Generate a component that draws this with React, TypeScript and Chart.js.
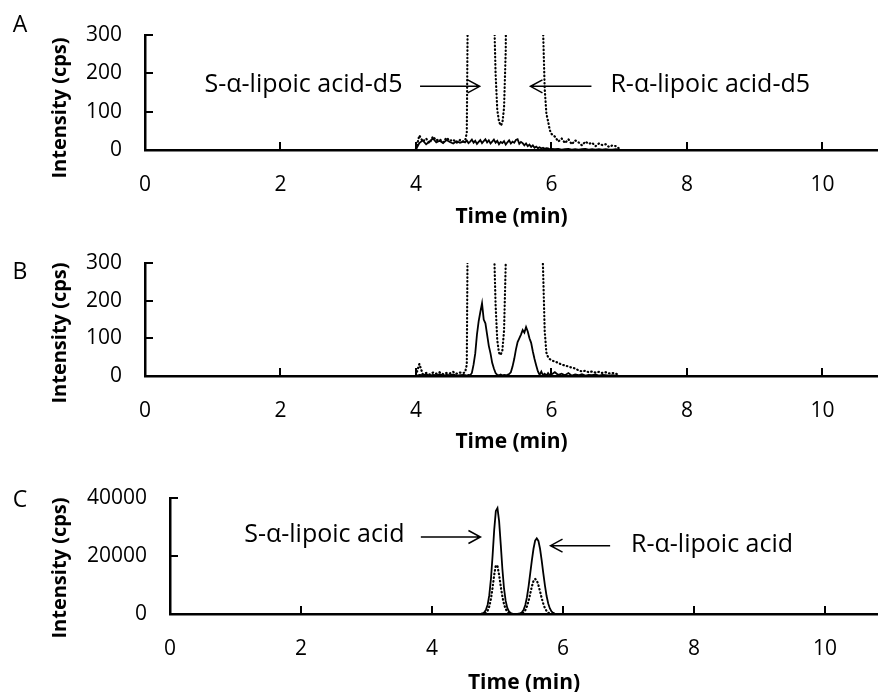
import React, { useEffect, useRef } from "react";
import { Chart, registerables } from "chart.js";
Chart.register(...registerables);

const FONT = "'Open Sans', 'Noto Sans', sans-serif";

// ---------- DATA ----------
// retention times (min) for panels A and B
const timesAB = [
  4.0, 4.05, 4.1, 4.15, 4.2, 4.25, 4.3, 4.35, 4.4, 4.45, 4.5, 4.55, 4.6, 4.65, 4.7,
  4.725, 4.75, 4.775, 4.8, 4.825, 4.85, 4.875, 4.9, 4.925, 4.95,
  4.975, 5.0, 5.025, 5.05, 5.075, 5.1, 5.125, 5.15, 5.175, 5.2,
  5.225, 5.25, 5.275, 5.3, 5.325, 5.35, 5.375, 5.4, 5.425, 5.45,
  5.475, 5.5, 5.525, 5.55, 5.575, 5.6, 5.625, 5.65, 5.675, 5.7,
  5.725, 5.75, 5.775, 5.8, 5.825, 5.85, 5.875, 5.9, 5.925, 5.95,
  5.975, 6.0,
  6.05, 6.1, 6.15, 6.2, 6.25, 6.3, 6.35, 6.4, 6.45, 6.5,
  6.55, 6.6, 6.65, 6.7, 6.75, 6.8, 6.85, 6.9, 6.95, 7.0,
];

// Panel A: blank (analyte channel, solid) and d5 internal standard (dotted)
const solidA = [
  2, 18, 25, 15, 22, 30, 20, 24, 18, 26, 21, 17, 23, 19, 22,
  20, 25, 18, 22, 27, 19, 24, 16, 21, 26,
  18, 23, 28, 20, 25, 17, 22, 27, 19, 24,
  15, 21, 18, 23, 14, 20, 25, 17, 22, 19,
  26, 28, 16, 21, 18, 12, 17, 10, 14, 8,
  12, 6, 9, 5, 7, 4, 6, 3, 5, 4,
  2, 3,
  2, 3, 1, 2, 3, 1, 2, 1, 2, 3, 1, 2, 1, 2, 1, 2, 1, 1, 2, 0,
];
const dottedA = [
  3, 38, 22, 30, 18, 35, 25, 28, 20, 32, 24, 27, 19, 26, 22,
  24, 45, 600, 3000, 7500, 12000, 15500, 17000, 17200, 16000,
  13000, 9500, 6200, 3800, 2200, 1200, 650, 380, 200, 105,
  75, 64, 70, 110, 260, 900, 3000, 6500, 9500, 11800,
  12600, 12300, 11000, 9200, 7500, 6000, 4800, 3800, 3000, 2300,
  1700, 1250, 900, 700, 550, 430, 320, 160, 95, 75,
  52, 42,
  35, 22, 30, 18, 28, 15, 25, 20, 12, 22, 16, 19, 10, 17, 13, 15, 8, 12, 10, 4,
];

// Panel B
const solidB = [
  0, 3, 2, 4, 1, 3, 2, 5, 1, 3, 2, 4, 1, 2, 3,
  2, 1, 3, 2, 8, 30, 60, 110, 145, 170,
  193, 150, 140, 110, 80, 60, 35, 20, 8, 3,
  2, 4, 1, 3, 2, 3, 5, 10, 25, 45,
  70, 90, 100, 110, 122, 115, 130, 118, 100, 88,
  65, 45, 28, 12, 3, 12, 2, 6, 1, 8,
  2, 4,
  10, 3, 6, 2, 8, 1, 4, 2, 5, 1, 3, 2, 4, 1, 3, 2, 1, 2, 1, 0,
];
const dottedB = [
  2, 32, 5, 8, 4, 9, 6, 10, 5, 8, 7, 11, 6, 9, 8,
  10, 30, 700, 3200, 7800, 12200, 15800, 17300, 17400, 16200,
  13200, 9700, 6400, 3900, 2300, 1250, 680, 360, 190, 95,
  62, 56, 68, 120, 300, 1000, 3200, 6800, 9800, 12000,
  12800, 12400, 11100, 9300, 7600, 6100, 4900, 3900, 3000, 2300,
  1700, 1250, 900, 680, 520, 400, 290, 120, 62, 50,
  45, 42,
  38, 35, 30, 28, 25, 22, 20, 15, 12, 14, 10, 12, 9, 11, 8, 10, 7, 8, 6, 3,
];

// Panel C
const timesC = [
  4.7, 4.725, 4.75, 4.775, 4.8, 4.825, 4.85, 4.875, 4.9, 4.925,
  4.95, 4.975, 5.0, 5.025, 5.05, 5.075, 5.1, 5.125, 5.15, 5.175,
  5.2, 5.225, 5.25, 5.275, 5.3, 5.325, 5.35, 5.375, 5.4, 5.425,
  5.45, 5.475, 5.5, 5.525, 5.55, 5.575, 5.6, 5.625, 5.65, 5.675,
  5.7, 5.725, 5.75, 5.775, 5.8, 5.825, 5.85, 5.875, 5.9, 5.925,
  5.95, 5.975, 6.0,
];
const solidC = [
  0, 0, 50, 200, 600, 1500, 3200, 6500, 12000, 20000,
  29000, 35500, 36500, 32000, 24000, 15500, 8800, 4500, 2100, 900,
  350, 120, 40, 20, 30, 80, 250, 650, 1500, 3100,
  5800, 9500, 14000, 18500, 22500, 25300, 26100, 25200, 22500, 18500,
  14000, 9800, 6200, 3600, 1900, 900, 380, 150, 50, 20,
  0, 0, 0,
];
const dottedC = [
  0, 0, 0, 50, 200, 500, 1200, 2600, 5200, 9000,
  13500, 16800, 16500, 13500, 9500, 6000, 3400, 1700, 800, 300,
  100, 30, 0, 0, 0, 20, 80, 250, 600, 1300,
  2600, 4500, 7000, 9500, 11400, 12100, 11600, 10000, 7800, 5500,
  3500, 2000, 1000, 450, 180, 60, 20, 0, 0, 0,
  0, 0, 0,
];

const xTickStep = 2;
const yTicksAB = { max: 300, step: 100 };
const yTicksC = { max: 40000, step: 20000 };

// ---------- LAYOUT / ANNOTATIONS ----------
type Note = {
  text: string;
  textAt: number;
  textY: number;
  align: CanvasTextAlign;
  from: number;
  to: number;
  y: number;
};

type Panel = {
  letter: string;
  top: number;
  chartTop: number;
  chartLeft: number;
  chartBottom: number;
  xAxisHeight: number;
  letterX: number;
  letterY: number;
  yTitleY: number;
  xMax: number;
  yMax: number;
  yStep: number;
  times: number[];
  solid: number[];
  dotted: number[];
  notes: Note[];
};

const panels: Panel[] = [
  {
    letter: "A", top: 0, chartTop: 35, chartLeft: 145, chartBottom: 150, xAxisHeight: 80,
    letterX: 20, letterY: 25, yTitleY: 108, xMax: 10.82,
    yMax: yTicksAB.max, yStep: yTicksAB.step,
    times: timesAB, solid: solidA, dotted: dottedA,
    notes: [
      { text: "S-α-lipoic acid-d5", textAt: 3.8, textY: 171, align: "right", from: 4.06, to: 4.94, y: 166 },
      { text: "R-α-lipoic acid-d5", textAt: 6.87, textY: 171, align: "left", from: 6.59, to: 5.69, y: 166 },
    ],
  },
  {
    letter: "B", top: 230, chartTop: 263, chartLeft: 145, chartBottom: 376, xAxisHeight: 79,
    letterX: 20, letterY: 272, yTitleY: 333, xMax: 10.82,
    yMax: yTicksAB.max, yStep: yTicksAB.step,
    times: timesAB, solid: solidB, dotted: dottedB,
    notes: [],
  },
  {
    letter: "C", top: 460, chartTop: 498, chartLeft: 170, chartBottom: 614, xAxisHeight: 82,
    letterX: 20, letterY: 500, yTitleY: 568, xMax: 10.81,
    yMax: yTicksC.max, yStep: yTicksC.step,
    times: timesC, solid: solidC, dotted: dottedC,
    notes: [
      { text: "S-α-lipoic acid", textAt: 3.58, textY: 27240, align: "right", from: 3.83, to: 4.74, y: 26550 },
      { text: "R-α-lipoic acid", textAt: 7.04, textY: 23800, align: "left", from: 6.72, to: 5.81, y: 23550 },
    ],
  },
];

function PanelChart({ p }: { p: Panel }) {
  const ref = useRef<HTMLCanvasElement>(null);
  const height = p.chartBottom - p.top + p.xAxisHeight;

  useEffect(() => {
    const canvas = ref.current;
    if (!canvas) return;

    const decor = {
      id: "decor",
      afterDraw(chart: any) {
        const { ctx, chartArea } = chart;
        const xs = chart.scales.x;
        const ys = chart.scales.y;
        ctx.save();
        ctx.strokeStyle = "#000";
        ctx.fillStyle = "#000";
        ctx.lineWidth = 2;
        // inward tick marks
        for (const t of ys.ticks) {
          if (t.value === 0) continue;
          const py = Math.round(ys.getPixelForValue(t.value));
          ctx.beginPath();
          ctx.moveTo(chartArea.left, py);
          ctx.lineTo(chartArea.left + 8, py);
          ctx.stroke();
        }
        for (const t of xs.ticks) {
          if (t.value === 0) continue;
          const px = Math.round(xs.getPixelForValue(t.value));
          ctx.beginPath();
          ctx.moveTo(px, chartArea.bottom);
          ctx.lineTo(px, chartArea.bottom - 8);
          ctx.stroke();
        }
        // panel letter
        ctx.textAlign = "center";
        ctx.textBaseline = "middle";
        ctx.font = `23px ${FONT}`;
        ctx.fillText(p.letter, p.letterX, p.letterY - p.top);
        // y-axis title
        ctx.save();
        ctx.translate(60, p.yTitleY - p.top);
        ctx.rotate(-Math.PI / 2);
        ctx.font = `bold 20px ${FONT}`;
        ctx.fillText("Intensity (cps)", 0, 0);
        ctx.restore();
        // annotations
        ctx.font = `25px ${FONT}`;
        ctx.lineWidth = 1.5;
        for (const n of p.notes) {
          ctx.textAlign = n.align;
          ctx.fillText(n.text, xs.getPixelForValue(n.textAt), ys.getPixelForValue(n.textY));
          const ay = ys.getPixelForValue(n.y);
          const x1 = xs.getPixelForValue(n.from);
          const x2 = xs.getPixelForValue(n.to);
          const dir = Math.sign(x2 - x1);
          ctx.beginPath();
          ctx.moveTo(x1, ay);
          ctx.lineTo(x2, ay);
          ctx.moveTo(x2 - dir * 12, ay - 6.5);
          ctx.lineTo(x2, ay);
          ctx.lineTo(x2 - dir * 12, ay + 6.5);
          ctx.stroke();
        }
        ctx.restore();
      },
    };

    const chart = new Chart(canvas, {
      type: "line",
      data: {
        datasets: [
          {
            data: p.times.map((t, i) => ({ x: t, y: p.dotted[i] })),
            borderColor: "#000",
            borderWidth: 2.2,
            borderDash: [0.5, 3.2],
            borderCapStyle: "round",
            pointRadius: 0,
            tension: 0,
          },
          {
            data: p.times.map((t, i) => ({ x: t, y: p.solid[i] })),
            borderColor: "#000",
            borderWidth: 1.8,
            pointRadius: 0,
            tension: 0,
          },
        ],
      },
      options: {
        animation: false,
        responsive: false,
        events: [],
        layout: { padding: { top: p.chartTop - p.top, left: 0, right: 0, bottom: 0 } },
        plugins: { legend: { display: false }, tooltip: { enabled: false } },
        scales: {
          x: {
            type: "linear",
            min: 0,
            max: p.xMax,
            grid: { display: false },
            border: { display: true, color: "#000", width: 2.5 },
            ticks: {
              stepSize: xTickStep,
              includeBounds: false,
              padding: 14,
              color: "#000",
              maxRotation: 0,
              autoSkip: false,
              font: { size: 21, family: FONT },
              callback: (v: any) => String(v),
            },
            title: {
              display: true,
              text: "Time (min)",
              color: "#000",
              padding: 0,
              font: { size: 21, weight: "bold", family: FONT },
            },
            afterFit: (s: any) => {
              s.height = p.xAxisHeight;
            },
          },
          y: {
            type: "linear",
            min: 0,
            max: p.yMax,
            grid: { display: false },
            border: { display: true, color: "#000", width: 2.5 },
            ticks: {
              stepSize: p.yStep,
              padding: 15,
              color: "#000",
              font: { size: 21, family: FONT },
              callback: (v: any) => String(v),
            },
            afterFit: (s: any) => {
              s.width = p.chartLeft;
            },
          },
        },
      } as any,
      plugins: [decor],
    });
    return () => chart.destroy();
  }, [p]);

  return (
    <canvas
      ref={ref}
      width={878}
      height={height}
      style={{ position: "absolute", left: 0, top: p.top, width: 878, height }}
    />
  );
}

export default function App() {
  return (
    <div
      style={{
        position: "absolute",
        left: 0,
        top: 0,
        width: 878,
        height: 692,
        overflow: "hidden",
        background: "#fff",
      }}
    >
      {panels.map((p) => (
        <PanelChart key={p.letter} p={p} />
      ))}
    </div>
  );
}
